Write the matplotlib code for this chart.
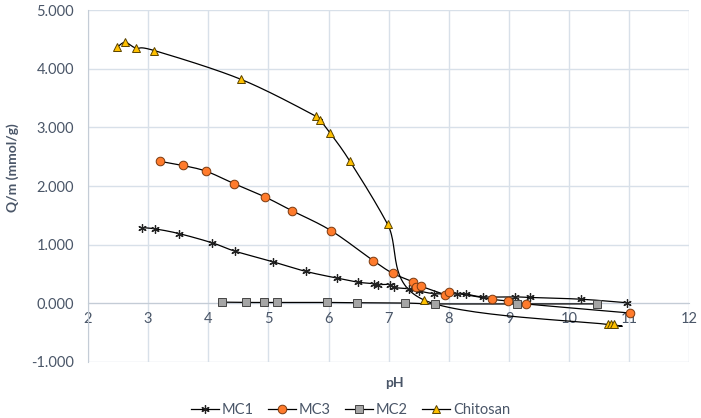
"""Adsorption capacity Q/m versus pH for MC1, MC3, MC2 and chitosan."""

import matplotlib

matplotlib.use("Agg")
import matplotlib.pyplot as plt
import numpy as np
from matplotlib.lines import Line2D

plt.rcParams["font.family"] = ["Lato", "DejaVu Sans"]

# --- data ---
mc1_ph = [2.90, 3.11, 3.51, 4.07, 4.44, 5.07, 5.62, 6.14, 6.49, 6.76, 6.83, 7.02, 7.09,
          7.33, 7.50, 7.76, 8.13, 8.28, 8.56, 9.10, 9.35, 10.20, 10.96]
mc1_q = [1.29, 1.27, 1.19, 1.03, 0.89, 0.71, 0.545, 0.43, 0.36, 0.335, 0.32, 0.32, 0.27,
         0.25, 0.21, 0.165, 0.16, 0.16, 0.11, 0.11, 0.10, 0.07, 0.01]

mc3_ph = [3.20, 3.58, 3.97, 4.43, 4.95, 5.39, 6.04, 6.74, 7.07, 7.41, 7.45, 7.53,
          7.94, 8.00, 8.71, 8.99, 9.28, 11.01]
mc3_q = [2.42, 2.35, 2.25, 2.04, 1.81, 1.58, 1.24, 0.73, 0.51, 0.36, 0.27, 0.29,
         0.15, 0.19, 0.07, 0.04, -0.01, -0.165]

mc2_ph = [4.23, 4.62, 4.93, 5.14, 5.98, 6.48, 7.27, 7.77, 9.14, 10.47]
mc2_q = [0.02, 0.015, 0.015, 0.015, 0.015, 0.01, 0.005, -0.01, -0.01, -0.01]

chit_ph = [2.49, 2.62, 2.80, 3.10, 4.54, 5.79, 5.86, 6.02, 6.35, 6.98, 7.58,
           10.64, 10.70, 10.75]
chit_q = [4.37, 4.45, 4.35, 4.31, 3.82, 3.19, 3.12, 2.91, 2.43, 1.35, 0.06,
          -0.36, -0.36, -0.36]

x_ticks = list(range(2, 13))
y_ticks = [-1, 0, 1, 2, 3, 4, 5]

GRID = "#d8e0e9"
TEXT = "#4a5668"


def smooth(xs, ys, n=30):
    """Excel-like smoothed line (Catmull-Rom through the points)."""
    p = np.column_stack([xs, ys]).astype(float)
    p = np.vstack([p[0], p, p[-1]])
    out = []
    t = np.linspace(0, 1, n)[:, None]
    for i in range(1, len(p) - 2):
        p0, p3 = p[i], p[i + 1]
        c1 = p0 + (p[i + 1] - p[i - 1]) / 6
        c2 = p3 - (p[i + 2] - p[i]) / 6
        seg = ((1 - t) ** 3) * p0 + 3 * ((1 - t) ** 2) * t * c1 + 3 * (1 - t) * t**2 * c2 + t**3 * p3
        out.append(seg)
    out = np.vstack(out)
    return out[:, 0], out[:, 1]


series = [
    ("MC1", mc1_ph, mc1_q, dict(marker=(6, 2, 0), markersize=6, markerfacecolor="black",
                                markeredgecolor="#222222", markeredgewidth=0.9)),
    ("MC3", mc3_ph, mc3_q, dict(marker="o", markersize=6.2, markerfacecolor="#ff7b2c",
                                markeredgecolor="#7a3a10", markeredgewidth=0.7)),
    ("MC2", mc2_ph, mc2_q, dict(marker="s", markersize=5.6, markerfacecolor="#a5a5a5",
                                markeredgecolor="#444444", markeredgewidth=0.7)),
    ("Chitosan", chit_ph, chit_q, dict(marker="^", markersize=6, markerfacecolor="#ffc000",
                                       markeredgecolor="#5a4300", markeredgewidth=0.7)),
]

fig = plt.figure(figsize=(7.01, 4.18), dpi=100)
ax = fig.add_axes([0.1255, 0.134, 0.858, 0.842])

handles = []
for name, xs, ys, style in series:
    sx, sy = smooth(xs, ys)
    ax.plot(sx, sy, color="black", lw=0.9, zorder=3)
    ax.plot(xs, ys, linestyle="none", zorder=4, **style)
    handles.append(Line2D([], [], color="black", lw=0.9, label=name, **style))

ax.set_xlim(2, 12)
ax.set_ylim(-1, 5)
ax.set_xticks(x_ticks)
ax.set_yticks(y_ticks)
ax.set_yticklabels([f"{v:.3f}" for v in y_ticks])
ax.grid(True, color=GRID, lw=1.0, zorder=0)
ax.set_axisbelow(True)

for side in ["top", "right"]:
    ax.spines[side].set_visible(False)
ax.spines["left"].set_color("#c4ccd6")
ax.spines["bottom"].set_position(("data", 0))
ax.spines["bottom"].set_color("#c4ccd6")
ax.tick_params(length=0, labelsize=10.5, labelcolor=TEXT)
ax.tick_params(axis="x", pad=6)
ax.tick_params(axis="y", pad=10)

fig.text(0.563, 0.084, "pH", ha="center", va="center", fontsize=10, fontweight="bold", color=TEXT)
fig.text(0.018, 0.6, "Q/m (mmol/g)", ha="center", va="center", rotation=90,
         fontsize=10, fontweight="bold", color=TEXT)

leg = fig.legend(handles=handles, loc="center", bbox_to_anchor=(0.5, 0.02), ncol=4,
                 frameon=False, fontsize=10.5, handlelength=1.9, columnspacing=1.0,
                 handletextpad=0.2)
for t in leg.get_texts():
    t.set_color(TEXT)

fig.savefig("out.png", dpi=100)
